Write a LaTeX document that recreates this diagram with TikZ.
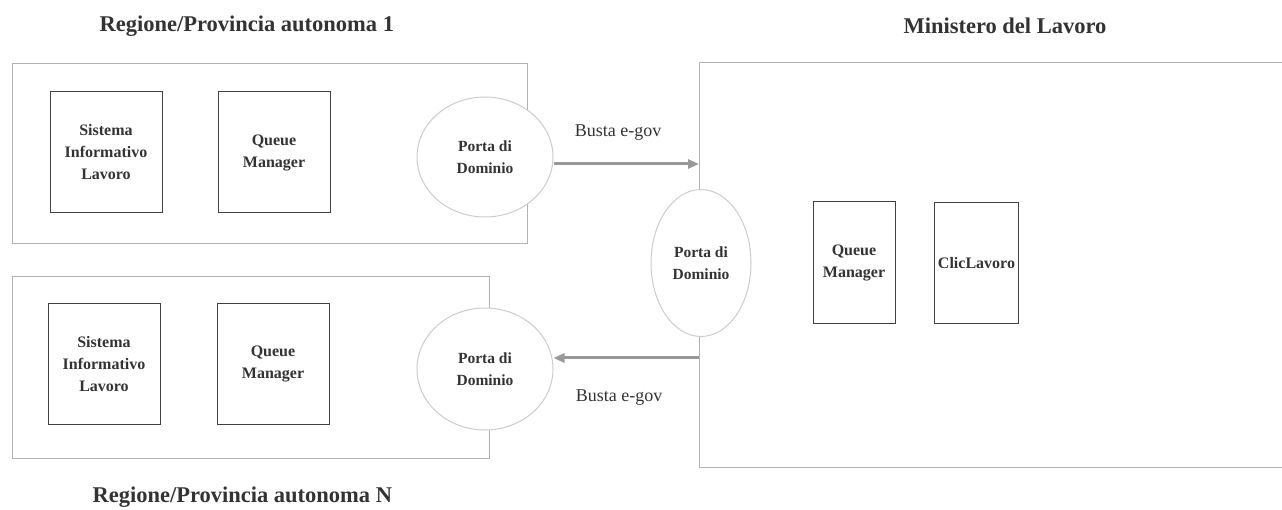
\documentclass[tikz,border=0pt]{standalone}
\usepackage{fontspec}
\setmainfont{Liberation Serif}
\usetikzlibrary{arrows.meta,shapes.geometric,positioning}

\begin{document}
\begin{tikzpicture}[x=1pt, y=-1pt, >={Triangle[length=11pt, width=9pt]},
  every node/.style={text=black!80},
  title/.style={font=\fontsize{22.5}{26}\selectfont\bfseries},
  unit/.style={draw=black!75, line width=1pt, minimum width=112pt, minimum height=121pt, align=center, font=\fontsize{16}{22}\selectfont\bfseries},
  porta/.style={ellipse, draw=black!20, line width=1pt, fill=white, align=center, font=\fontsize{15.5}{22}\selectfont\bfseries},
  region/.style={draw=black!30, line width=1pt},
  msg/.style={->, draw=black!40, line width=3pt},
  label/.style={font=\fontsize{18}{22}\selectfont}]
\path[use as bounding box] (0,0) rectangle (1282,510);
\draw[region] (12,64) rectangle (527,244);
\draw[region] (12,277) rectangle (489,458);
\draw[region] (1282,63) -- (699,63) -- (699,467) -- (1282,467);
\node[title, anchor=west] (reg1) at (96,26) {Regione/Provincia autonoma 1};
\node[title, anchor=west] (regN) at (89,497) {Regione/Provincia autonoma N};
\node[title, anchor=west] (min) at (900,26) {Ministero del Lavoro};
\node[unit] (sil1) at (106,152.5) {Sistema\\Informativo\\Lavoro};
\node[unit] (qm1) at (274,152.5) {Queue\\Manager};
\node[unit] (silN) at (104,364) {Sistema\\Informativo\\Lavoro};
\node[unit] (qmN) at (273,364) {Queue\\Manager};
\node[unit, minimum width=82pt, minimum height=122pt] (qmM) at (854,263) {Queue\\Manager};
\node[unit, minimum width=83pt, minimum height=121pt] (clic) at (976.5,263.5) {ClicLavoro};
\node[porta, minimum width=136pt, minimum height=120pt] (pd1) at (485,157) {Porta di\\Dominio};
\node[porta, minimum width=136pt, minimum height=122pt] (pdN) at (485,369) {Porta di\\Dominio};
\node[porta, minimum width=100pt, minimum height=147pt] (pdM) at (701,263) {Porta di\\Dominio};
\coordinate (inM) at (699,164);
\coordinate (outM) at (699,358);
\draw[msg] (pd1.east |- inM) -- (inM);
\draw[msg] (outM) -- (pdN.east |- outM);
\node[label] (env1) at (618,133) {Busta e-gov};
\node[label] (envN) at (619,398) {Busta e-gov};
\end{tikzpicture}
\end{document}
